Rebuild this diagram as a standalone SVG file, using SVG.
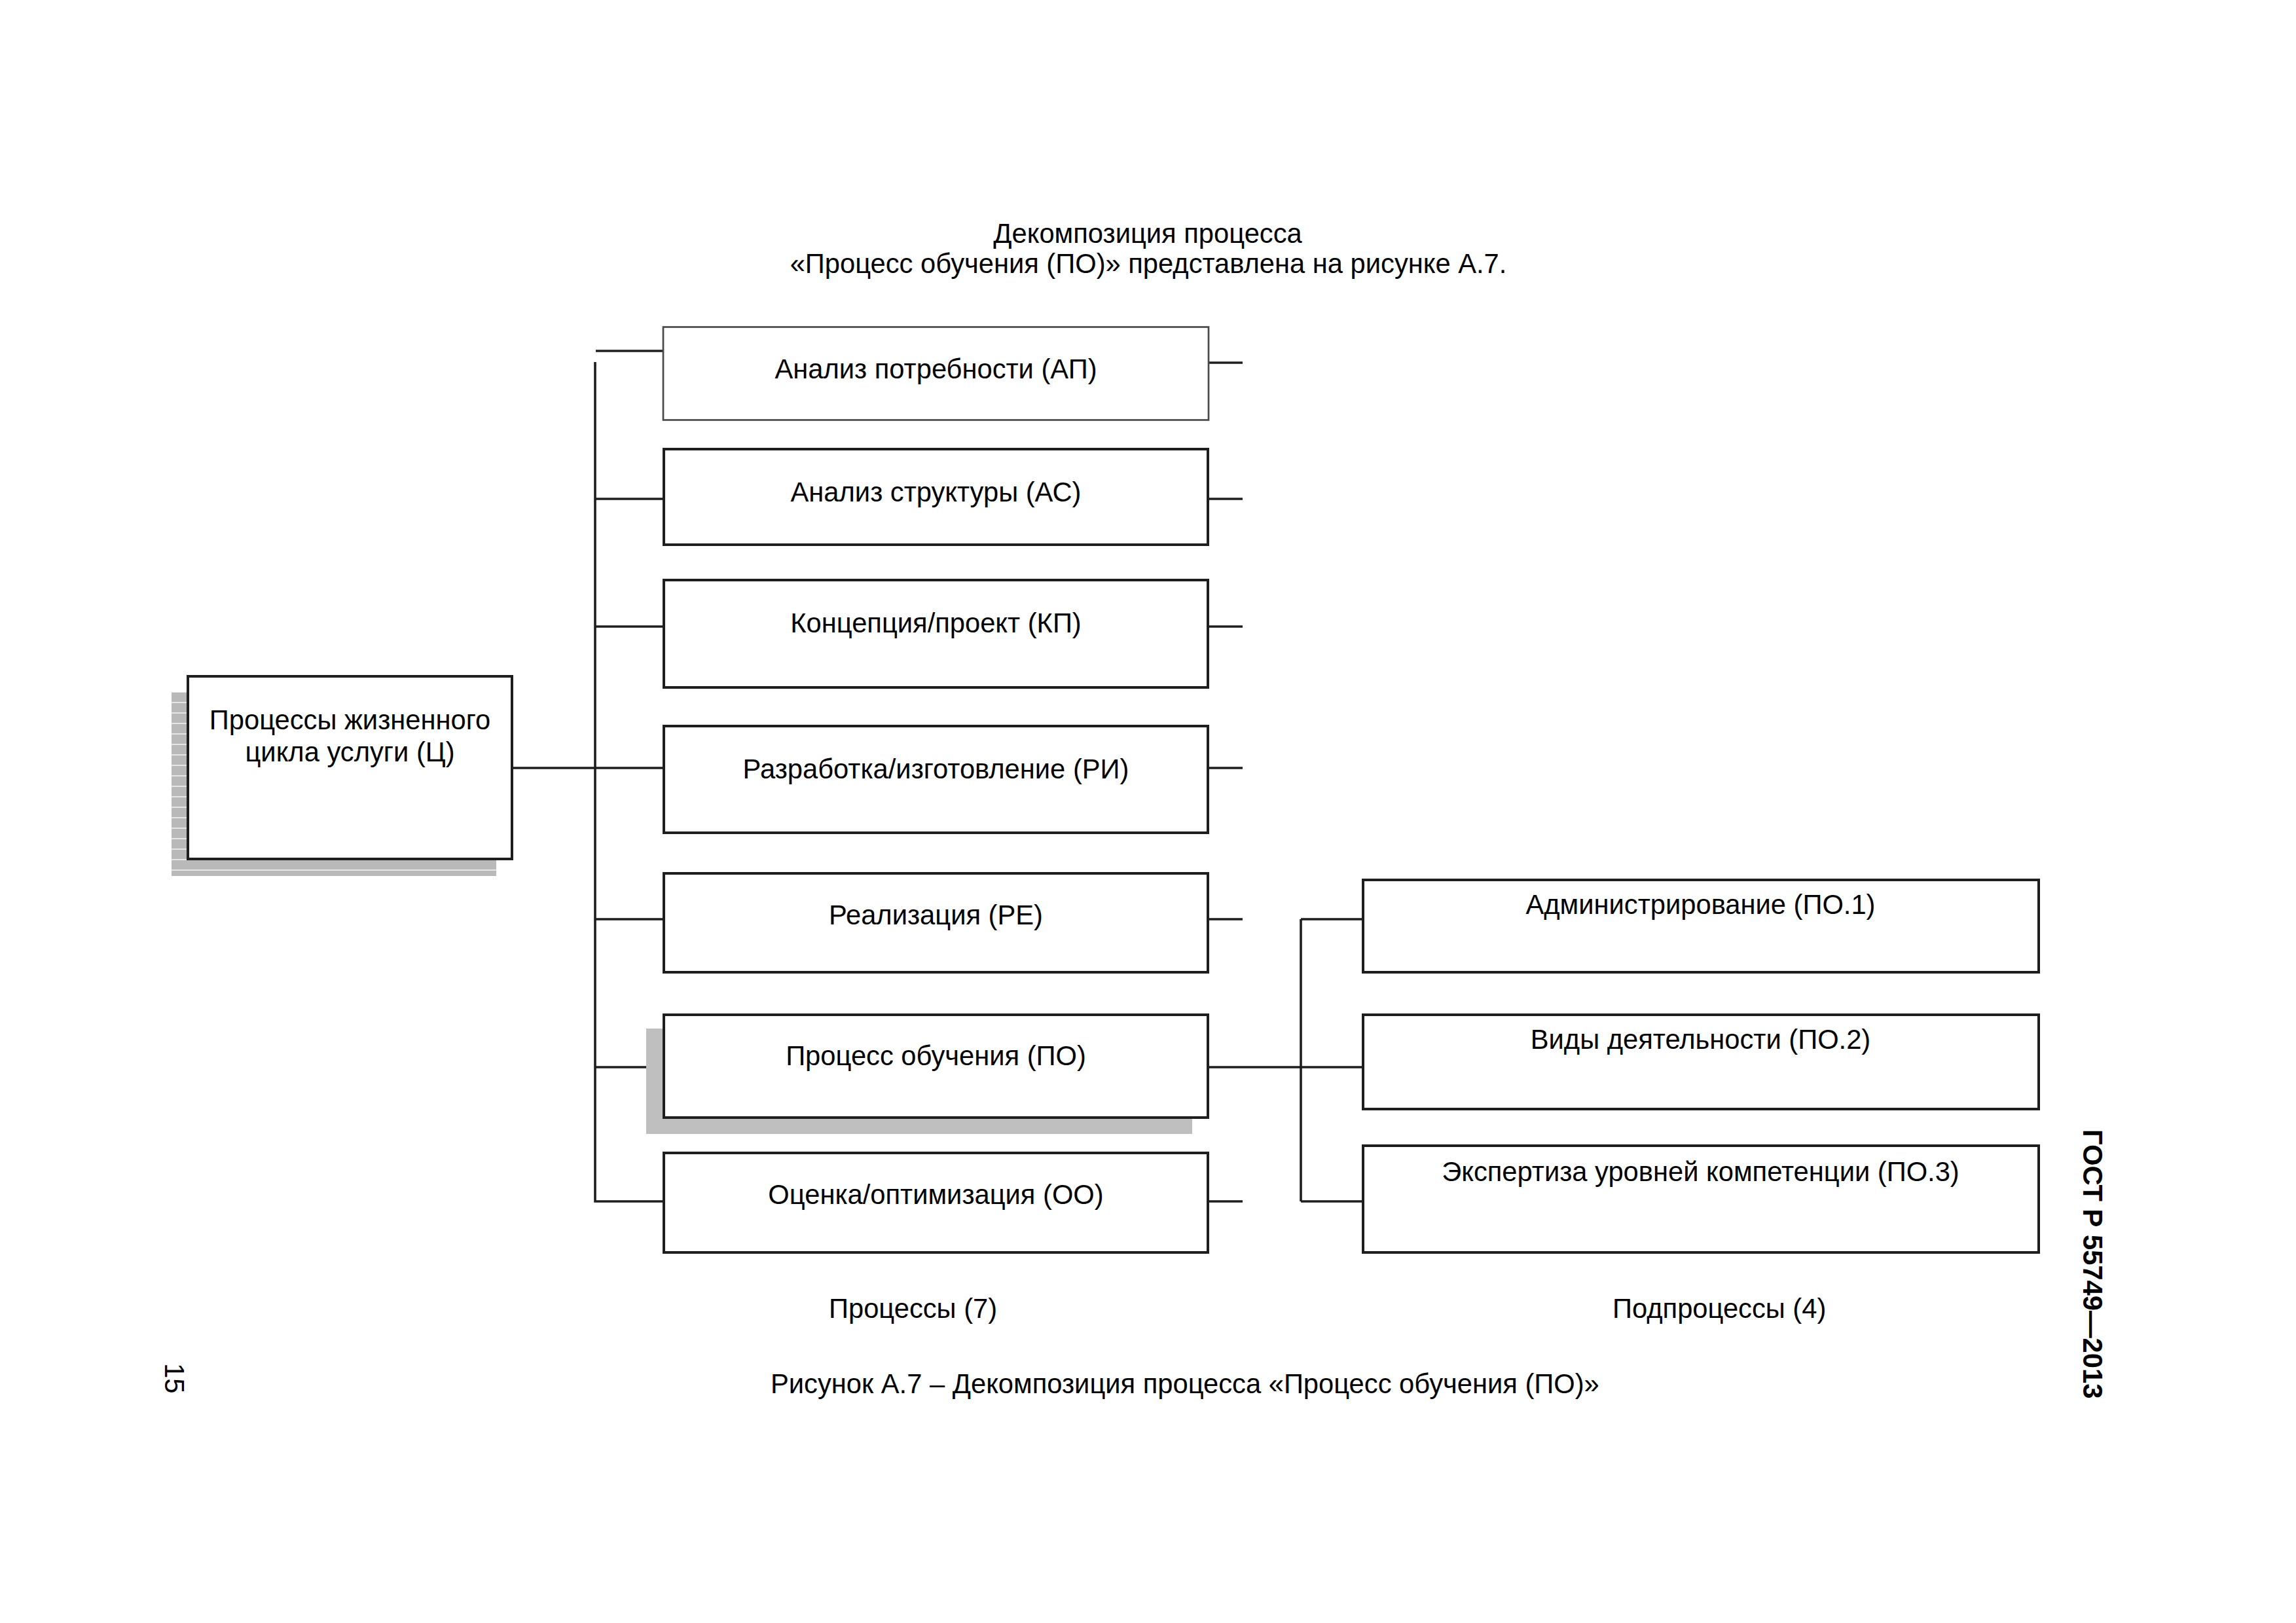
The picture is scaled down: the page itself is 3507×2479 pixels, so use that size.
<svg xmlns="http://www.w3.org/2000/svg" width="3507" height="2479" viewBox="0 0 3507 2479">
<style>
  .t { font-family: "Liberation Sans", Arial, sans-serif; font-size: 41.7px; fill: #000; }
  .c { text-anchor: middle; }
  .b { font-weight: bold; }
  .box { fill: #fff; stroke: #1e1e1e; stroke-width: 4; }
  .boxl { fill: #fff; stroke: #4a4a4a; stroke-width: 2.7; }
  .ln { fill: none; stroke: #1e1e1e; stroke-width: 3.6; }
</style>
<defs>
  <pattern id="stripes" width="16" height="16" patternUnits="userSpaceOnUse">
    <rect width="16" height="16" fill="#b9b9b9"/>
    <rect y="0" width="16" height="2" fill="#e6e6e6"/>
  </pattern>
</defs>
<rect width="3507" height="2479" fill="#fff"/>

<g id="header">
  <text class="t c" x="1753" y="371">Декомпозиция процесса</text>
  <text class="t c" x="1754" y="417">«Процесс обучения (ПО)» представлена на рисунке А.7.</text>
</g>

<g id="connectors">
  <path class="ln" d="M909 553 V1835 H1013"/>
  <path class="ln" d="M910 536 H1013"/>
  <path class="ln" d="M909 762 H1013"/>
  <path class="ln" d="M909 957 H1013"/>
  <path class="ln" d="M783 1173 H1013"/>
  <path class="ln" d="M909 1404 H1013"/>
  <path class="ln" d="M909 1630 H1013"/>
  <path class="ln" d="M1846 554 H1898"/>
  <path class="ln" d="M1846 762 H1898"/>
  <path class="ln" d="M1846 957 H1898"/>
  <path class="ln" d="M1846 1173 H1898"/>
  <path class="ln" d="M1846 1404 H1898"/>
  <path class="ln" d="M1846 1835 H1898"/>
  <path class="ln" d="M1846 1630 H2081"/>
  <path class="ln" d="M1987 1404 V1835"/>
  <path class="ln" d="M1987 1404 H2081"/>
  <path class="ln" d="M1987 1835 H2081"/>
</g>

<g id="node-c">
  <rect x="262" y="1057" width="496" height="281" fill="url(#stripes)"/>
  <rect class="box" x="287" y="1033" width="495" height="279"/>
  <text class="t c" x="534.5" y="1114">Процессы жизненного</text>
  <text class="t c" x="534.5" y="1163">цикла услуги (Ц)</text>
</g>

<g id="node-ap">
  <rect class="boxl" x="1013" y="499.5" width="833" height="142"/>
  <text class="t c" x="1429.5" y="578">Анализ потребности (АП)</text>
</g>
<g id="node-as">
  <rect class="box" x="1014" y="686" width="831" height="146"/>
  <text class="t c" x="1429.5" y="766">Анализ структуры (АС)</text>
</g>
<g id="node-kp">
  <rect class="box" x="1014" y="886" width="831" height="164"/>
  <text class="t c" x="1429.5" y="966">Концепция/проект (КП)</text>
</g>
<g id="node-ri">
  <rect class="box" x="1014" y="1109" width="831" height="163"/>
  <text class="t c" x="1429.5" y="1189">Разработка/изготовление (РИ)</text>
</g>
<g id="node-re">
  <rect class="box" x="1014" y="1334" width="831" height="151"/>
  <text class="t c" x="1429.5" y="1412">Реализация (РЕ)</text>
</g>
<g id="node-po">
  <rect x="987" y="1571" width="834" height="161" fill="#bfbfbf"/>
  <rect class="box" x="1014" y="1550" width="831" height="157"/>
  <text class="t c" x="1429.5" y="1627">Процесс обучения (ПО)</text>
</g>
<g id="node-oo">
  <rect class="box" x="1014" y="1761" width="831" height="152"/>
  <text class="t c" x="1429.5" y="1839">Оценка/оптимизация (ОО)</text>
</g>

<g id="node-po1">
  <rect class="box" x="2082" y="1344" width="1032" height="141"/>
  <text class="t c" x="2597.5" y="1396">Администрирование (ПО.1)</text>
</g>
<g id="node-po2">
  <rect class="box" x="2082" y="1550" width="1032" height="144"/>
  <text class="t c" x="2597.5" y="1602">Виды деятельности (ПО.2)</text>
</g>
<g id="node-po3">
  <rect class="box" x="2082" y="1750" width="1032" height="163"/>
  <text class="t c" x="2597.5" y="1804">Экспертиза уровней компетенции (ПО.3)</text>
</g>

<g id="labels">
  <text class="t" x="1266" y="2013">Процессы (7)</text>
  <text class="t" x="2463" y="2013">Подпроцессы (4)</text>
  <text class="t" x="1177" y="2128">Рисунок А.7 – Декомпозиция процесса «Процесс обучения (ПО)»</text>
  <text class="t" transform="translate(252 2082) rotate(90)" x="0" y="0">15</text>
  <text class="t b" transform="translate(3182 1725) rotate(90)" x="0" y="0">ГОСТ Р 55749—2013</text>
</g>
</svg>
